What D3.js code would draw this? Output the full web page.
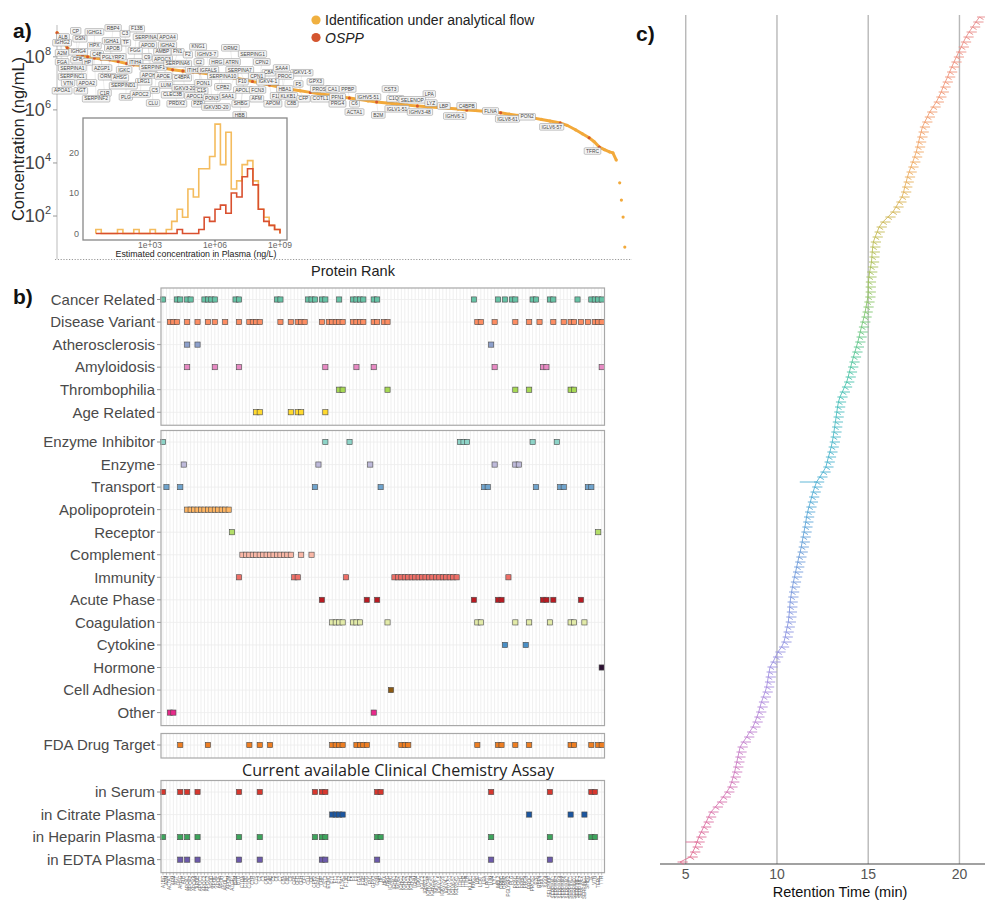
<!DOCTYPE html>
<html><head><meta charset="utf-8">
<script src="https://cdn.jsdelivr.net/npm/d3@7"></script>
<style>body{margin:0;background:#fff}svg{display:block;font-family:"Liberation Sans",Arial,sans-serif}</style>
</head><body><svg id="c" width="985" height="901"></svg>
<script>
// ================= DATA =================
// ---- Panel a: concentration vs protein rank ----
const curveRank = [0,2,4,6,9,12,15,18,22,26,31,36,41,45,50,55,59,64,68,74,80,84,90,96,104,110,115,119,125,130,133,138,143,149,155,160,166,172,178,183,188,194,200,206,212,218,224,230,236,241,246,251,256,261,266,271,276,280,285,290,296,300,305,309,313,316,319,322,325,327,329,331,332,333,334];
const curveLog10 = [8.91,8.75,8.57,8.34,8.20,8.10,8.05,8.00,7.96,7.92,7.89,7.82,7.75,7.70,7.67,7.64,7.62,7.56,7.51,7.47,7.43,7.40,7.35,7.29,7.21,7.14,7.07,7.02,6.94,6.87,6.83,6.77,6.72,6.66,6.60,6.56,6.50,6.45,6.39,6.34,6.30,6.26,6.22,6.18,6.15,6.12,6.09,6.06,6.03,6.00,5.98,5.95,5.92,5.89,5.84,5.79,5.74,5.70,5.64,5.58,5.51,5.42,5.25,5.10,4.95,4.80,4.60,4.50,4.42,4.38,4.11,3.25,2.60,1.96,0.83];
const osppIdx = [0,1,2,3,4,5,6,7,8,9,10,11,12,13,14,15,16,17,18,19,20,21,22,23,24,25,26,27,28,29,30,33,37,40,44,49,53,57,60,64,66];
const concTicks = [2,4,6,8];
const legendItems = ["Identification under analytical flow","OSPP"];

const labelNames = ["ALB","CP","IGHG1","RBP4","F13B","GSN","IGHA1","C3","SERPINA3","APOA4","IGHG2","HPX","TF","APOB","APOD","IGHA2","KNG1","ORM2","A2M","IGHG4","C4B","PGLYRP2","FGG","AMBP","FN1","F2","IGHV3-7","SERPING1","FGA","CFB","HP","ITIH4","C9","APOC3","C2","HRG","ATRN","CPN2","SERPINA1","AZGP1","IGKC","SERPINF1","SERPINA6","ITIH1","IGFALS","SERPINA7","C8A","SAA4","IGKV1-5","SERPINC1","ORM1","AHSG","APOH","APOE","C4BPA","SERPINA10","CPN1","PROC","VTN","APOA2","LRG1","SERPIND1","LUM","IGKV3-20","PON1","F10","IGKV4-1","F5","C5","APOA1","AGT","C1R","C1S","CPB2","APOL1","FCN3","HBA1","SERPINF2","PLG","APOC2","CLEC3B","APOC1","PON3","SAA1","AFM","F12","KLKB1","CFP","CLU","PRDX2","PZP","IGKV3D-20","SHBG","APOM","C8B","HBB","GPX3","PROS1","CA1","PPBP","CST3","COTL1","PFN1","IGHV5-51","LPA","PRG4","C6","C1QC","SELENOP","LYZ","ACTA1","IGLV1-51","IGHV3-48","LBP","C4BPB","B2M","IGHV6-1","FLNA","IGLV8-61","PON2","IGLV6-57","TFRC"];
const labelRank = [3.5,11,22,33,47,13.5,32,40,53,65,3,22,40.5,33,53.5,65,83,102,3,12.5,23.5,33,46,62,71,77,88,115,3,12,18,46,53,62,83.5,94,103,120.5,9,26.5,39.5,56.5,71,80,89,107.5,124.5,132,144,9,29.5,37,54,62.5,73.5,97.5,117.5,134,6.5,17.5,51,39,64,75,86,109,124,142,57.5,3,14,28,85,97.5,109.5,118,134,23,40.5,49,68,81,91,100.5,117.5,129,136,145,56.5,70.5,83,93.5,108,127,138,107.5,152,155,162,171,196,155,165,183,219,165,175,199,209,220,175,200,213.5,227.5,241,189,234,255,265,276.5,291,315];
const labelLog10 = [8.75,8.98,8.94,9.09,9.06,8.68,8.6,8.87,8.75,8.75,8.53,8.42,8.53,8.34,8.45,8.45,8.38,8.34,8.15,8.19,8.11,8.0,8.23,8.19,8.19,8.08,8.11,8.11,7.81,7.89,7.81,7.81,8.0,7.92,7.81,7.81,7.81,7.81,7.58,7.58,7.51,7.62,7.74,7.51,7.51,7.51,7.4,7.58,7.4,7.25,7.25,7.21,7.32,7.28,7.21,7.28,7.28,7.28,7.02,7.02,7.06,6.91,6.94,6.83,7.02,7.06,7.06,6.98,6.75,6.72,6.72,6.64,6.72,6.87,6.75,6.75,6.79,6.42,6.49,6.6,6.57,6.53,6.45,6.53,6.42,6.53,6.53,6.42,6.26,6.23,6.23,6.11,6.23,6.23,6.23,5.81,7.06,6.79,6.79,6.79,6.79,6.42,6.49,6.49,6.6,6.23,6.23,6.42,6.38,6.26,5.92,6.04,5.92,6.15,6.15,5.81,5.77,5.96,5.66,5.74,5.36,4.45];

// inset histogram (bins of 0.25 log10 ng/L starting at 0.5)
const histBinLog = [0.5,0.75,1,1.25,1.5,1.75,2,2.25,2.5,2.75,3,3.25,3.5,3.75,4,4.25,4.5,4.75,5,5.25,5.5,5.75,6,6.25,6.5,6.75,7,7.25,7.5,7.75,8,8.25,8.5,8.75];
const histFlow = [1,0,0,0,1,0,0,1,0,0,1,0,0,1,3,6,4,11,9,16,16,19,27,17,25,11,13,17,18,13,6,4,2,1];
const histOSPP = [0,0,0,0,0,0,0,0,0,0,0,0,0,0,0,1,0,0,0,1,4,3,6,7,5,10,9,14,16,12,6,3,2,1];
const histTicksX = [3,6,9];
const histTicksY = [0,10,20];

// ---- Panel b: annotation matrix ----
const proteins = ["A1BG","A2M","ACTA1","AFM","AGT","AHSG","ALB","APOA1","APOA2","APOA4","APOB","APOC1","APOC2","APOC3","APOD","APOE","APOF","APOH","APOL1","APOM","AZGP1","B2M","BTD","C1QA","C1QB","C1QC","C1R","C1S","C2","C3","C4A","C4B","C5","C6","C7","C8A","C8B","C9","CFB","CFD","CFH","CFI","CLU","CP","CPB2","CPN1","CRP","CST3","ECM1","F10","F11","F12","F13A1","F13B","F2","F5","F9","FGA","FGB","FGG","FN1","GPX3","GSN","HP","HPX","HRG","ICAM1","IGHA1","IGHA2","IGHG1","IGHG2","IGHG3","IGHG4","IGHM","IGKC","IGLC2","IGHV3-7","IGHV3-48","IGHV5-51","IGHV6-1","IGKV1-5","IGKV3-20","IGKV4-1","IGLV1-51","IGLV6-57","IGLV8-61","ITIH1","ITIH2","ITIH4","KLKB1","KNG1","LBP","LCAT","LPA","LRG1","LUM","LYZ","MBL2","ORM1","ORM2","PGLYRP2","PLG","PON1","PON3","PPBP","PRG4","PROC","PROS1","PZP","RBP4","SAA1","SAA4","SELENOP","SERPINA1","SERPINA3","SERPINA4","SERPINA6","SERPINA7","SERPINC1","SERPIND1","SERPINF1","SERPINF2","SERPING1","SHBG","TF","VTN","TFRC","TTR"];

const diseaseRows = ["Cancer Related","Disease Variant","Atherosclerosis","Amyloidosis","Thrombophilia","Age Related"];
const diseaseCols = [
  [0,4,5,7,8,12,13,14,15,21,22,33,34,42,43,44,46,47,51,55,56,57,58,61,62,90,97,99,101,102,107,108,112,113,120,124,125,126,127],
  [2,3,4,7,10,13,15,18,22,25,26,27,28,34,37,39,40,41,46,48,49,50,51,52,55,56,57,58,61,62,64,65,91,92,96,102,106,109,113,116,118,119,121,123,125,126,127],
  [7,10,95],
  [7,15,22,47,56,61,96,110,111,127],
  [51,52,65,102,106,118,119],
  [27,28,37,39,40,47]
];
const diseaseColors = ["#66C2A5","#FC8D62","#8DA0CB","#E78AC3","#A6D854","#FFD92F"];

const functionRows = ["Enzyme Inhibitor","Enzyme","Transport","Apolipoprotein","Receptor","Complement","Immunity","Acute Phase","Coagulation","Cytokine","Hormone","Cell Adhesion","Other"];
const functionCols = [
  [0,47,54,86,87,88,107,114],
  [6,45,60,96,102,103],
  [1,5,44,63,93,94,108,115,116,123,124],
  [7,8,9,10,11,12,13,14,15,16,17,18,19],
  [20,126],
  [23,24,25,26,27,28,29,30,31,32,33,34,35,36,37,40,43],
  [22,38,39,53,67,68,69,70,71,72,73,74,75,76,77,78,79,80,81,82,83,84,85,100],
  [46,59,62,90,97,98,110,111,113,121],
  [49,50,51,52,55,56,57,65,91,92,102,106,112,118,119,122],
  [99,105],
  [127],
  [66],
  [2,3,61]
];
const functionColors = ["#8DD3C7","#BEBADA","#6FA3CC","#FDB462","#B3DE69","#F9B7A6","#EE6F67","#B81B22","#E2EAA8","#4A8FC6","#2B1030","#8C5A12","#E7298A"];

const fdaRows = ["FDA Drug Target"];
const fdaCols = [[5,13,25,28,31,49,50,51,52,56,57,58,59,69,70,71,91,97,98,102,106,118,119,124,126,127]];
const fdaColors = ["#EE7E22"];

const assayTitle = "Current available Clinical Chemistry Assay";
const assayRows = ["in Serum","in Citrate Plasma","in Heparin Plasma","in EDTA Plasma"];
const assayCols = [
  [0,5,7,10,22,28,44,46,47,62,63,95,112,124,125],
  [49,50,51,52,106,118,122],
  [0,5,7,10,22,28,44,46,47,62,63,95,112,124,125],
  [5,7,10,22,28,46,47,62,95,112]
];
const assayColors = ["#D6372E","#1B56A0","#3DA45C","#6C5AAA"];

// ---- Panel c: peptide retention times (ordered) ----
const peptideRT = [4.69,5.24,5.38,5.52,5.62,5.72,5.85,5.98,6.12,6.25,6.38,6.62,6.85,7.05,7.25,7.42,7.52,7.6,7.68,7.74,7.8,7.86,7.92,7.98,8.15,8.34,8.5,8.68,8.8,8.9,9.0,9.07,9.15,9.25,9.35,9.43,9.48,9.52,9.57,9.62,9.78,9.92,10.05,10.25,10.38,10.45,10.5,10.56,10.62,10.65,10.68,10.7,10.72,10.76,10.8,10.85,10.9,10.96,11.02,11.08,11.14,11.2,11.27,11.33,11.38,11.43,11.48,11.53,11.58,11.62,11.68,11.75,11.83,11.9,11.98,12.07,12.17,12.35,12.52,12.68,12.75,12.82,12.9,12.97,13.03,13.08,13.12,13.16,13.2,13.24,13.28,13.32,13.37,13.45,13.58,13.7,13.82,13.9,13.97,14.04,14.11,14.19,14.27,14.35,14.43,14.5,14.56,14.63,14.7,14.77,14.83,14.88,14.93,14.98,15.0,15.0,15.01,15.04,15.08,15.13,15.18,15.2,15.22,15.25,15.28,15.38,15.49,15.6,15.8,16.08,16.35,16.52,16.68,16.85,16.94,17.0,17.08,17.15,17.24,17.34,17.44,17.54,17.63,17.7,17.76,17.83,17.9,17.97,18.1,18.24,18.37,18.55,18.73,18.87,19.0,19.1,19.22,19.35,19.46,19.58,19.7,19.83,19.96,20.1,20.22,20.36,20.53,20.72,20.9,21.1];
const wideIdx = [4,76];
const wideStartRT = [5.0,11.25];
const rtTicks = [5,10,15,20];

// ================= DRAW =================
const svg = d3.select("#c");
svg.append("rect").attr("width",985).attr("height",901).attr("fill","#fff");

function panelLabel(t,x,y){svg.append("text").attr("x",x).attr("y",y).attr("font-size",21).attr("font-weight","bold").attr("fill","#111").text(t);}
panelLabel("a)",13,38); panelLabel("b)",13,304); panelLabel("c)",636,41);

// ---------- Panel a ----------
const xRank = d3.scaleLinear().domain([0,334]).range([57,624.8]);
const yConc = d3.scaleLinear().domain([0.38,9.2]).range([259,25]);
const cFlow = "#F2A93B", cOspp = "#D4552F";

svg.append("line").attr("x1",57).attr("x2",57).attr("y1",25).attr("y2",259).attr("stroke","#bbb").attr("stroke-width",1);
svg.append("line").attr("x1",55).attr("x2",632).attr("y1",259.5).attr("y2",259.5).attr("stroke","#999").attr("stroke-width",1).attr("stroke-dasharray","1.2,1.6");
concTicks.forEach(t=>{
  const y=yConc(t);
  svg.append("line").attr("x1",53).attr("x2",57).attr("y1",y).attr("y2",y).attr("stroke","#999");
  const tx=svg.append("text").attr("x",51).attr("y",y+6).attr("text-anchor","end").attr("font-size",18).attr("fill","#444");
  tx.append("tspan").text("10");
  tx.append("tspan").attr("dy",-8).attr("font-size",11).text(t);
});
svg.append("text").attr("transform","translate(24,139) rotate(-90)").attr("text-anchor","middle").attr("font-size",16.5).attr("fill","#222").text("Concentration (ng/mL)");
svg.append("text").attr("x",353).attr("y",276).attr("text-anchor","middle").attr("font-size",14.5).attr("fill","#222").text("Protein Rank");

// label segments
const curvePts = curveRank.map((r,i)=>({r, v:curveLog10[i], i}));
const gSeg = svg.append("g");
labelNames.forEach((n,i)=>{
  const near = d3.least(curvePts, p=>Math.abs(p.r-labelRank[i]));
  gSeg.append("line").attr("x1",xRank(labelRank[i])).attr("y1",yConc(labelLog10[i]))
    .attr("x2",xRank(near.r)).attr("y2",yConc(near.v)).attr("stroke","#d4d4d4").attr("stroke-width",0.4);
});

// curve
const mainPts = curvePts.filter(p=>p.v>4);
svg.append("path").attr("d",d3.line().x(p=>xRank(p.r)).y(p=>yConc(p.v))(mainPts))
  .attr("fill","none").attr("stroke",cFlow).attr("stroke-width",3);
svg.append("g").selectAll("circle").data(curvePts).join("circle")
  .attr("cx",p=>xRank(p.r)).attr("cy",p=>yConc(p.v)).attr("r",1.6).attr("fill",cFlow);
svg.append("g").selectAll("circle").data(osppIdx.map(i=>curvePts[i])).join("circle")
  .attr("cx",p=>xRank(p.r)).attr("cy",p=>yConc(p.v)).attr("r",1.5).attr("fill",cOspp);

// labels
const gLab = svg.append("g");
labelNames.forEach((n,i)=>{
  const x=xRank(labelRank[i]), y=yConc(labelLog10[i]);
  const g=gLab.append("g");
  const r=g.append("rect").attr("fill","#f4f4f4").attr("stroke","#8c8c8c").attr("stroke-width",0.5).attr("rx",1);
  const t=g.append("text").attr("x",x).attr("y",y+1.7).attr("text-anchor","middle").attr("font-size",4.9).attr("fill","#444").text(n);
  const w=t.node().getComputedTextLength();
  r.attr("x",x-w/2-1.8).attr("y",y-3.3).attr("width",w+3.6).attr("height",6.6);
});

// legend
legendItems.forEach((s,i)=>{
  svg.append("circle").attr("cx",316).attr("cy",20+i*17.5).attr("r",4.6).attr("fill",i?cOspp:"#F0B040");
  svg.append("text").attr("x",325).attr("y",25+i*17.5).attr("font-size",14).attr("fill","#222")
    .attr("font-style",i?"italic":"normal").text(s);
});

// inset histogram
svg.append("rect").attr("x",83).attr("y",118).attr("width",204).attr("height",122).attr("fill","#fff").attr("stroke","#888").attr("stroke-width",1.3);
const xh = d3.scaleLinear().domain([3,9]).range([150,280]);
const yh = d3.scaleLinear().domain([0,20]).range([233.5,152.5]);
const bw = histBinLog[1]-histBinLog[0];
function stepPts(counts){
  const pts=[[xh(histBinLog[0]),yh(0)]];
  counts.forEach((c,i)=>{pts.push([xh(histBinLog[i]),yh(c)]);pts.push([xh(histBinLog[i]+bw),yh(c)]);});
  pts.push([xh(histBinLog[histBinLog.length-1]+bw),yh(0)]);
  return pts;
}
svg.append("path").attr("d",d3.line()(stepPts(histFlow))).attr("fill","none").attr("stroke","#F4BC5E").attr("stroke-width",1.6);
svg.append("path").attr("d",d3.line()(stepPts(histOSPP))).attr("fill","none").attr("stroke","#D9502F").attr("stroke-width",1.6);
histTicksY.forEach(t=>{
  svg.append("text").attr("x",79).attr("y",yh(t)+3).attr("text-anchor","end").attr("font-size",9).attr("fill","#666").text(t);
});
histTicksX.forEach(t=>{
  svg.append("line").attr("x1",xh(t)).attr("x2",xh(t)).attr("y1",240).attr("y2",242).attr("stroke","#666");
  svg.append("text").attr("x",xh(t)).attr("y",247.5).attr("text-anchor","middle").attr("font-size",8.5).attr("fill","#666").text("1e+0"+t);
});
svg.append("text").attr("x",196).attr("y",257).attr("text-anchor","middle").attr("font-size",8.8).attr("fill","#222").text("Estimated concentration in Plasma (ng/L)");

// ---------- Panel b ----------
const xb = d3.scalePoint().domain(proteins).range([163,601.7]);
const rowStep = 22.55, bxL = 161, bxR = 604.5;
function matrix(rows, cols, colors, firstY){
  const yTop = firstY-11.5, yBot = firstY+(rows.length-1)*rowStep+13;
  const g = svg.append("g");
  g.append("rect").attr("x",bxL).attr("y",yTop).attr("width",bxR-bxL).attr("height",yBot-yTop).attr("fill","#fff");
  proteins.forEach(p=>g.append("line").attr("x1",xb(p)).attr("x2",xb(p)).attr("y1",yTop).attr("y2",yBot).attr("stroke","#ebebeb").attr("stroke-width",0.8));
  rows.forEach((r,i)=>{
    const y=firstY+i*rowStep;
    g.append("line").attr("x1",bxL).attr("x2",bxR).attr("y1",y).attr("y2",y).attr("stroke","#ececec").attr("stroke-width",0.8);
    g.append("line").attr("x1",157).attr("x2",161).attr("y1",y).attr("y2",y).attr("stroke","#777").attr("stroke-width",0.8);
    g.append("text").attr("x",155).attr("y",y+5.3).attr("text-anchor","end").attr("font-size",15).attr("fill","#4a4a4a").text(r);
    cols[i].forEach(ci=>{
      g.append("rect").attr("x",xb(proteins[ci])-2.6).attr("y",y-2.6).attr("width",5.2).attr("height",5.2)
        .attr("fill",colors[i]).attr("stroke","#4a4a4a").attr("stroke-width",0.6);
    });
  });
  g.append("rect").attr("x",bxL).attr("y",yTop).attr("width",bxR-bxL).attr("height",yBot-yTop).attr("fill","none").attr("stroke","#a8a8a8").attr("stroke-width",1.2);
  return yBot;
}
matrix(diseaseRows, diseaseCols, diseaseColors, 299.5);
matrix(functionRows, functionCols, functionColors, 442);
matrix(fdaRows, fdaCols, fdaColors, 745);
svg.append("text").attr("x",398).attr("y",776).attr("text-anchor","middle").attr("font-family","'Open Sans',sans-serif").attr("font-size",16.5).attr("fill","#222").attr("textLength",312).attr("lengthAdjust","spacingAndGlyphs").text(assayTitle);
const assayBot = matrix(assayRows, assayCols, assayColors, 792);
proteins.forEach(p=>{
  svg.append("line").attr("x1",xb(p)).attr("x2",xb(p)).attr("y1",assayBot).attr("y2",assayBot+2.5).attr("stroke","#888").attr("stroke-width",0.5);
  svg.append("text").attr("transform",`translate(${xb(p)+1.5},${assayBot+3}) rotate(-90)`).attr("text-anchor","end").attr("font-size",4.6).attr("fill","#666").text(p);
});

// ---------- Panel c ----------
const xr = d3.scaleLinear().domain([3.59,21.4]).range([660,985]);
const yp = d3.scaleLinear().domain([0,peptideRT.length-1]).range([862,17]);
rtTicks.forEach(t=>{
  svg.append("line").attr("x1",xr(t)).attr("x2",xr(t)).attr("y1",15).attr("y2",864).attr("stroke","#b8b8b8").attr("stroke-width",1.4);
  svg.append("text").attr("x",xr(t)).attr("y",879).attr("text-anchor","middle").attr("font-size",14).attr("fill","#555").text(t);
});
svg.append("line").attr("x1",660).attr("x2",985).attr("y1",864).attr("y2",864).attr("stroke","#444").attr("stroke-width",1.2);
svg.append("text").attr("x",840).attr("y",897).attr("text-anchor","middle").attr("font-size",14.5).attr("fill","#111").text("Retention Time (min)");
const pepColor = d3.scaleLinear().domain([0,35,62,88,112,138,169])
  .range(["#E0708E","#A98FE0","#6E9ED8","#52BCC4","#8CC66A","#EDAE62","#E68A8C"]).interpolate(d3.interpolateHcl);
const gp = svg.append("g").attr("stroke-width",0.9).attr("fill","none");
peptideRT.forEach((rt,i)=>{
  const x=xr(rt), y=yp(i), c=pepColor(i);
  gp.append("line").attr("x1",xr(rt-0.14)).attr("x2",xr(rt+0.42)).attr("y1",y).attr("y2",y).attr("stroke",c);
  gp.append("line").attr("x1",x).attr("x2",x+4).attr("y1",y).attr("y2",y+2.6).attr("stroke",c);
  if(i>0) gp.append("line").attr("x1",xr(peptideRT[i-1])).attr("y1",yp(i-1)).attr("x2",x).attr("y2",y).attr("stroke",c);
});
wideIdx.forEach((pi,k)=>{
  gp.append("line").attr("x1",xr(wideStartRT[k])).attr("x2",xr(peptideRT[pi])).attr("y1",yp(pi)).attr("y2",yp(pi)).attr("stroke",pepColor(pi));
});
</script></body></html>
